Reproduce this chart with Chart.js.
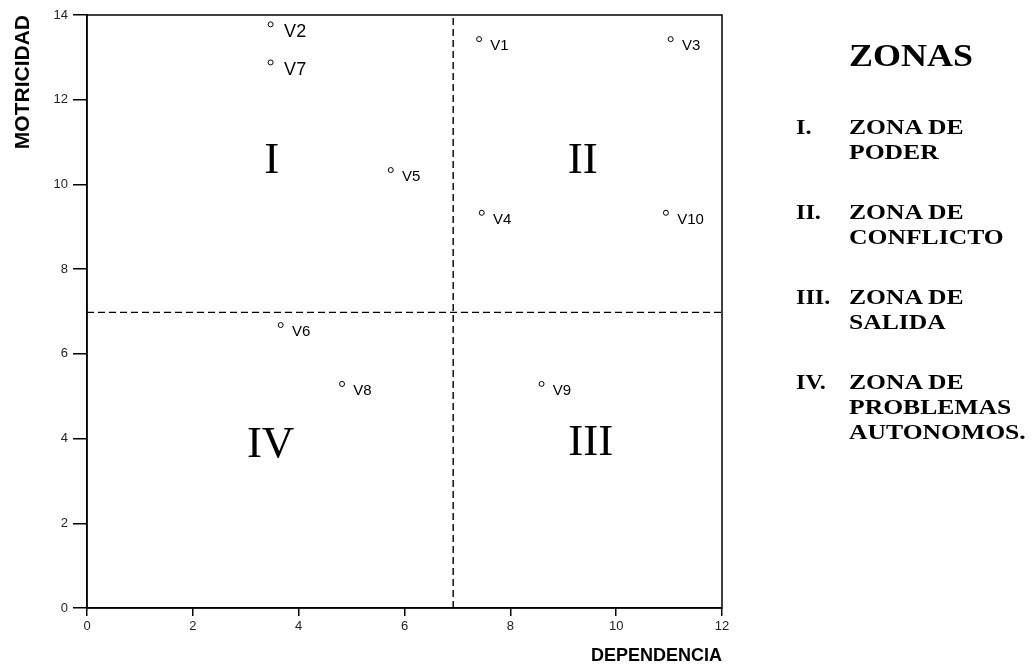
<!DOCTYPE html>
<html lang="es">
<head>
<meta charset="UTF-8">
<title>Plano de motricidad y dependencia</title>
<script src="https://cdn.jsdelivr.net/npm/chart.js"></script>
<style>
    body { margin: 0; background: #fff; }
    #contenedor { position: relative; width: 1035px; height: 668px; overflow: hidden; }
    #grafico { position: absolute; left: 0; top: 0; }
    .leyenda { position: absolute; font-family: "Liberation Serif", "Times New Roman", serif; font-weight: bold; color: #000; }
    .titulo { left: 849px; top: 38px; font-size: 31px; line-height: 36px; transform: scaleX(1.16); transform-origin: left top; }
    .lista { left: 796px; top: 115px; font-size: 21px; line-height: 25px; }
    .item { display: flex; margin-bottom: 35px; }
    .num { width: 53px; transform: scaleX(1.15); transform-origin: left top; }
    .txt { transform: scaleX(1.22); transform-origin: left top; white-space: nowrap; }
</style>
</head>
<body>
<div id="contenedor">
    <canvas id="grafico" width="1035" height="668"></canvas>
    <div class="leyenda titulo">ZONAS</div>
    <div class="leyenda lista" id="lista"></div>
</div>

<script>
// variables: dependencia (x) y motricidad (y)
const etiquetas   = ['V1', 'V2', 'V3', 'V4', 'V5', 'V6', 'V7', 'V8', 'V9', 'V10'];
const dependencia = [7.41, 3.47, 11.03, 7.46, 5.74, 3.66, 3.47, 4.82, 8.59, 10.94];
const motricidad  = [13.43, 13.78, 13.43, 9.33, 10.34, 6.68, 12.88, 5.29, 5.29, 9.33];

// lineas de corte del plano
const corteDependencia = 6.92;
const corteMotricidad  = 6.98;

const ticksDependencia = [0, 2, 4, 6, 8, 10, 12];
const ticksMotricidad  = [0, 2, 4, 6, 8, 10, 12, 14];

// numeros romanos dentro de cada cuadrante
const zonas = ['I', 'II', 'III', 'IV'];
const zonaX = [3.49, 9.37, 9.52, 3.47];
const zonaY = [10.56, 10.56, 3.88, 3.85];

const leyendaNum = ['I.', 'II.', 'III.', 'IV.'];
const leyendaTexto = [
    ['ZONA DE', 'PODER'],
    ['ZONA DE', 'CONFLICTO'],
    ['ZONA DE', 'SALIDA'],
    ['ZONA DE', 'PROBLEMAS', 'AUTONOMOS.']
];

document.getElementById('lista').innerHTML = leyendaNum.map((n, i) =>
    `<div class="item"><span class="num">${n}</span><span class="txt">${leyendaTexto[i].join('<br>')}</span></div>`
).join('');

const puntos = etiquetas.map((e, i) => ({ x: dependencia[i], y: motricidad[i] }));

const marcoYTextos = {
    id: 'marcoYTextos',
    beforeDatasetsDraw(chart) {
        const { ctx, chartArea: a } = chart;
        ctx.save();
        ctx.strokeStyle = '#000';
        ctx.lineWidth = 1.5;
        ctx.strokeRect(a.left, a.top, a.right - a.left, a.bottom - a.top);
        ctx.restore();
    },
    afterDatasetsDraw(chart) {
        const { ctx, scales: { x, y } } = chart;
        ctx.save();
        ctx.fillStyle = '#000';
        // etiquetas de las variables
        etiquetas.forEach((e, i) => {
            const grande = e === 'V2' || e === 'V7';
            const tam = grande ? 18 : 15;
            const px = x.getPixelForValue(dependencia[i]);
            const py = y.getPixelForValue(motricidad[i]);
            ctx.font = tam + 'px "Liberation Sans", Arial, sans-serif';
            ctx.textAlign = 'left';
            ctx.textBaseline = 'alphabetic';
            ctx.fillText(e, px + tam * 0.75, py + tam * 0.72);
        });
        // numeros de zona
        ctx.font = '45px "Liberation Serif", "Times New Roman", serif';
        ctx.textAlign = 'center';
        ctx.textBaseline = 'middle';
        zonas.forEach((z, i) => {
            ctx.fillText(z, x.getPixelForValue(zonaX[i]), y.getPixelForValue(zonaY[i]));
        });
        ctx.restore();
    }
};

Chart.defaults.font.family = '"Liberation Sans", Arial, sans-serif';
Chart.defaults.color = '#000';

new Chart(document.getElementById('grafico'), {
    type: 'scatter',
    data: {
        datasets: [
            {
                data: puntos,
                pointStyle: 'circle',
                pointRadius: 2.5,
                borderWidth: 1,
                borderColor: '#000',
                backgroundColor: '#fff'
            },
            {
                type: 'line',
                data: [{ x: corteDependencia, y: 0 }, { x: corteDependencia, y: 14 }],
                borderColor: '#000',
                borderWidth: 1.4,
                borderDash: [7, 4],
                pointRadius: 0
            },
            {
                type: 'line',
                data: [{ x: 0, y: corteMotricidad }, { x: 12, y: corteMotricidad }],
                borderColor: '#000',
                borderWidth: 1.4,
                borderDash: [7, 4],
                pointRadius: 0
            }
        ]
    },
    options: {
        responsive: false,
        animation: false,
        layout: { padding: { top: 15, right: 313, left: 0, bottom: 0 } },
        plugins: { legend: { display: false }, tooltip: { enabled: false } },
        scales: {
            x: {
                type: 'linear',
                min: 0, max: 12,
                afterBuildTicks: s => { s.ticks = ticksDependencia.map(v => ({ value: v })); },
                afterFit: s => { s.height = 60; },
                grid: { drawOnChartArea: false, drawTicks: true, tickLength: 8, color: '#000', lineWidth: 1.5 },
                border: { color: '#000', width: 1.5 },
                ticks: { font: { size: 13 }, padding: 3, color: '#222' },
                title: { display: true, text: 'DEPENDENCIA', align: 'end', font: { size: 18, weight: 'bold' }, padding: { top: 0, bottom: 1 } }
            },
            y: {
                type: 'linear',
                min: 0, max: 14,
                afterBuildTicks: s => { s.ticks = ticksMotricidad.map(v => ({ value: v })); },
                afterFit: s => { s.width = 87; },
                grid: { drawOnChartArea: false, drawTicks: true, tickLength: 14, color: '#000', lineWidth: 1.5 },
                border: { color: '#000', width: 1.5 },
                ticks: { font: { size: 13 }, padding: 5, color: '#222' },
                title: { display: true, text: 'MOTRICIDAD', align: 'end', font: { size: 21, weight: 'bold' }, padding: { top: 11, bottom: 0 } }
            }
        }
    },
    plugins: [marcoYTextos]
});
</script>
</body>
</html>
